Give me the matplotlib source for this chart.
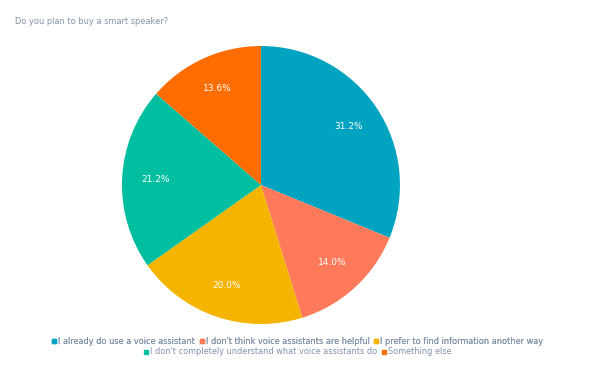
import numpy as np
import matplotlib
matplotlib.use("Agg")
import matplotlib.pyplot as plt
from matplotlib.lines import Line2D

title = "Do you plan to buy a smart speaker?"
labels = ["I already do use a voice assistant",
          "I don't think voice assistants are helpful",
          "I prefer to find information another way",
          "I don't completely understand what voice assistants do",
          "Something else"]
shares = [31.2, 14.0, 20.0, 21.2, 13.6]
colors = ["#00A3C0", "#FF7A5A", "#F5B400", "#00BFA0", "#FF6D00"]

text_color = "#8193ab"

fig = plt.figure(figsize=(6, 3.7), dpi=100)
fig.patch.set_facecolor("white")

# square axes so pie lands at the same spot as the reference
ax = fig.add_axes([0.2033, 0.1243, 0.4633, 0.7514])
ax.pie(shares, colors=colors, startangle=90, counterclock=False,
       radius=1, autopct="%.1f%%", pctdistance=0.76,
       wedgeprops={"linewidth": 0},
       textprops={"color": "white", "fontsize": 6.5})
ax.set_xlim(-1, 1)
ax.set_ylim(-1, 1)
ax.set_aspect("equal")
ax.axis("off")

fig.text(15 / 600, 1 - 22 / 370, title, fontsize=5.95, color=text_color,
         ha="left", va="center")

handles = [Line2D([0], [0], marker="s", linestyle="none", markersize=2.2,
                  markerfacecolor=c, markeredgecolor=c) for c in colors]

leg_kw = dict(loc="center", frameon=False, fontsize=5.85,
              labelcolor=text_color, handlelength=0.4, handletextpad=0.3,
              columnspacing=0.6, borderpad=0, borderaxespad=0)
row1 = fig.legend(handles[:3], labels[:3], ncol=3,
                  bbox_to_anchor=(298 / 600, 1 - 341 / 370), **leg_kw)
fig.add_artist(row1)
fig.legend(handles[3:], labels[3:], ncol=2,
           bbox_to_anchor=(298 / 600, 1 - 352 / 370), **leg_kw)

fig.savefig("out.png", dpi=100)
